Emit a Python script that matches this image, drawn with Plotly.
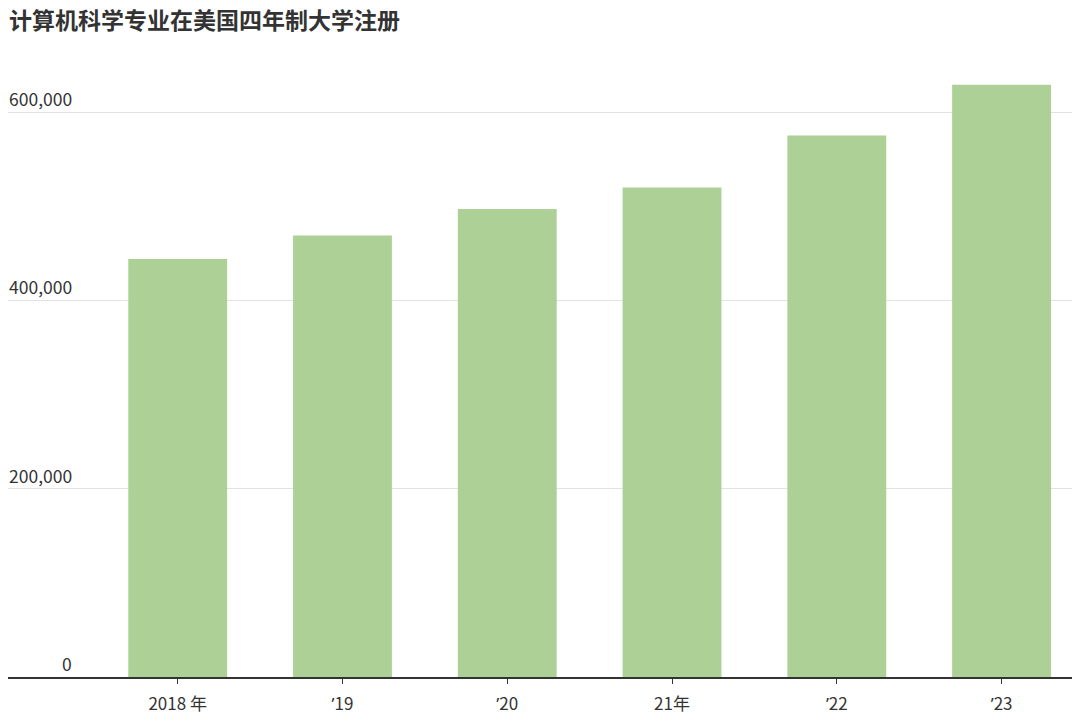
import plotly.graph_objects as go

title_text = "计算机科学专业在美国四年制大学注册"
years = ["2018", "2019", "2020", "2021", "2022", "2023"]
tick_labels = ["2018 年", "’19", "’20", "21年", "’22", "’23"]
enrollment = [444000, 469000, 497000, 520000, 575000, 629000]
y_ticks = [0, 200000, 400000, 600000]
y_tick_labels = ["0", "200,000", "400,000", "600,000"]

FONT = "Noto Sans CJK SC"
BAR = "#add097"
# page has an 8px body margin; figure is sized so it fits the 1080x721 window
W, H = 1072, 713
ML, MR, MT, MB = 0, 0, 57, 44
plot_w = W - ML - MR


def fix_quote(s):
    return s.replace("’", "<span style='font-family:Noto Sans'>’</span>")


fig = go.Figure()
fig.add_trace(go.Bar(
    x=list(range(len(years))),
    y=enrollment,
    width=0.6,
    marker=dict(color=BAR, line=dict(width=0)),
    hoverinfo="skip",
))

for v, t in zip(y_ticks, y_tick_labels):
    fig.add_annotation(
        x=65 / plot_w, xref="paper", xanchor="right",
        y=v, yref="y", yanchor="bottom", yshift=0,
        text=t, showarrow=False, borderpad=0,
        font=dict(family=FONT, size=17.5, color="#333333"),
    )

fig.update_layout(
    width=W, height=H,
    margin=dict(l=ML, r=MR, t=MT, b=MB, pad=0),
    paper_bgcolor="white", plot_bgcolor="white",
    showlegend=False,
    bargap=0.4,
    title=dict(
        text="<b>" + title_text + "</b>",
        x=1 / W, xanchor="left", xref="container",
        y=1 - 5 / H, yanchor="top", yref="container",
        pad=dict(t=0, l=0),
        font=dict(family=FONT, size=23, color="#333333"),
    ),
    xaxis=dict(
        range=[-1.03, 5.476],
        tickmode="array",
        tickvals=list(range(len(years))),
        ticktext=[fix_quote(t) for t in tick_labels],
        ticks="outside", ticklen=5, tickwidth=1.2, tickcolor="#333333",
        ticklabelstandoff=6,
        showline=True, linecolor="#333333", linewidth=1.5,
        showgrid=False, zeroline=False,
        tickfont=dict(family=FONT, size=17, color="#333333"),
        fixedrange=True,
    ),
    yaxis=dict(
        range=[0, 650000],
        tickmode="array", tickvals=y_ticks,
        showticklabels=False,
        showgrid=True, gridcolor="#e2e2e2", gridwidth=1,
        zeroline=False, showline=False,
        fixedrange=True,
    ),
)

fig.write_html("out.html")
